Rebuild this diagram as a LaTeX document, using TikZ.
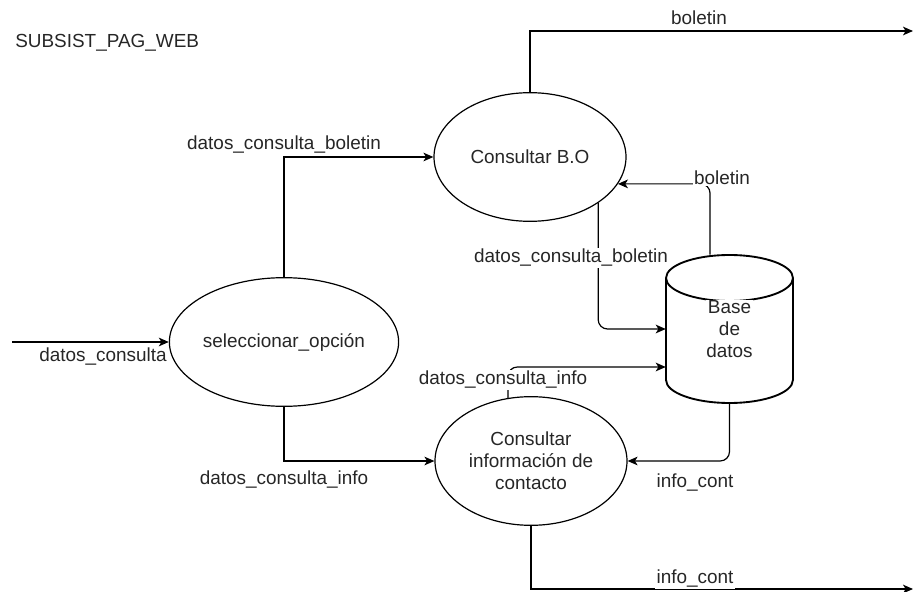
\documentclass[tikz,border=0pt]{standalone}
\usepackage{fontspec}
\setmainfont{Liberation Sans}
\usetikzlibrary{arrows.meta,shapes.geometric}
\begin{document}
\begin{tikzpicture}[x=0.75pt,y=-0.75pt,
  every node/.style={font=\fontsize{14.2}{16.5}\selectfont, text=black!85},
  proc/.style={ellipse, draw, line width=0.9pt, minimum width=144pt, minimum height=96.5pt, inner sep=0pt, align=center},
  lbl/.style={fill=white, inner sep=1pt},
  arr/.style={draw, line width=0.9pt, -{Stealth[length=7.5pt,width=6.5pt,inset=2pt]}},
  rarr/.style={arr, rounded corners=7pt},
  dbline/.style={line width=1.4pt}]
\useasboundingbox (0,0) rectangle (915,592);

% title
\node[anchor=west, inner sep=0pt] (title) at (15,43) {SUBSIST\_PAG\_WEB};

% processes
\node[proc] (sel) at (284,342) {seleccionar\_opción};
\node[proc] (bo) at (530,157) {Consultar B.O};
\node[proc] (info) at (531,461) {Consultar\\información de\\contacto};

% database (cylinder)
\node[draw=none, minimum width=95.25pt, minimum height=111pt, inner sep=0pt] (db) at (729.5,329) {};
\draw[dbline] (729.5,278) ellipse [x radius=47.6pt, y radius=17.25pt];
\draw[dbline] (666,278) -- (666,380) arc[start angle=180, end angle=360, x radius=47.6pt, y radius=17.25pt] -- (793,278);
\node[lbl, align=center, inner sep=0.5pt] (dbt) at (db.center) {Base\\de\\datos};

% external endpoints
\coordinate (inS) at (12,342);
\coordinate (outB) at (913,31);
\coordinate (outI) at (913,589);

% connectors
\draw[arr] (inS) -- (sel.west);
\node (l1) at (103,357) {datos\_consulta};

\draw[arr] (sel.north) |- (bo.west);
\node (l2) at (284,145) {datos\_consulta\_boletin};

\draw[arr] (sel.south) |- (info.west);
\node (l3) at (284,480) {datos\_consulta\_info};

\draw[arr] (bo.north) |- (outB);
\node (l4) at (699,18) {boletin};

\draw[rarr] ([xshift=-14.6pt]db.north) |- (bo.-17);
\node[lbl] (l5) at (722,178) {boletin};

\draw[rarr] (bo.-34) |- (db.west);
\node[lbl] (l6) at (571,258) {datos\_consulta\_boletin};

\draw[rarr] ([xshift=-17.25pt,yshift=-1.5pt]info.north) |- ([yshift=-28.5pt]db.west);
\node[lbl] (l7) at (503,380) {datos\_consulta\_info};

\draw[rarr] (db.south) |- (info.east);
\node (l8) at (695,483) {info\_cont};

\draw[arr] (info.south) |- (outI);
\node[lbl] (l9) at (695,579) {info\_cont};
\end{tikzpicture}
\end{document}
